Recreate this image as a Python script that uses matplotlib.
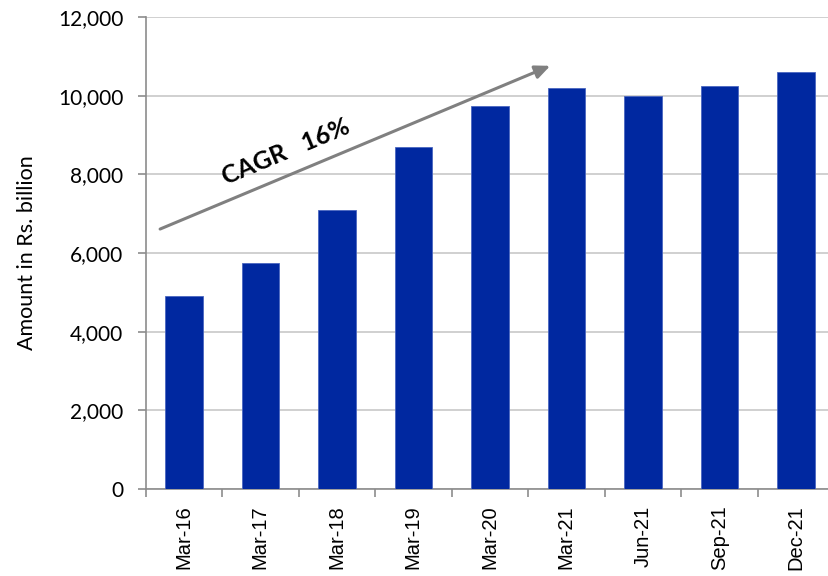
import matplotlib.pyplot as plt
import numpy as np

plt.rcParams['font.family'] = ['Lato', 'DejaVu Sans']

# Dane z grafu
periods = ['Mar-16', 'Mar-17', 'Mar-18', 'Mar-19', 'Mar-20', 'Mar-21', 'Jun-21', 'Sep-21', 'Dec-21']
amounts = [4910, 5745, 7090, 8705, 9737, 10187, 9999, 10246, 10610]
yTicks = [0, 2000, 4000, 6000, 8000, 10000, 12000]

barColor = '#0028A0'
axisColor = '#8C8C8C'

fig = plt.figure(figsize=(8.29, 5.76), dpi=100)
ax = fig.add_axes([0.1756, 0.151, 0.8305, 0.8194])

x = np.arange(len(periods))
ax.bar(x, amounts, width=0.49, color=barColor, edgecolor='#4A66C0', linewidth=0.6, zorder=3)

ax.set_xlim(-0.5, len(periods) - 0.5)
ax.set_ylim(0, 12000)
ax.set_yticks(yTicks)
ax.set_yticklabels([f'{v:,}' for v in yTicks], fontsize=15)
ax.yaxis.grid(True, color='#C4C4C4', linewidth=1.1, zorder=0)

ax.set_xticks(x)
ax.set_xticklabels(periods, rotation=90, fontsize=14.5, family=['Liberation Sans', 'DejaVu Sans'])
ax.set_xticks(np.arange(-0.5, len(periods)), minor=True)
ax.tick_params(axis='x', which='major', length=0, pad=12)
ax.tick_params(axis='x', which='minor', length=6, color=axisColor, width=1.2)
ax.tick_params(axis='y', length=6, color=axisColor, width=1.2, pad=10)

for side in ['top', 'right']:
    ax.spines[side].set_visible(False)
for side in ['left', 'bottom']:
    ax.spines[side].set_color(axisColor)
    ax.spines[side].set_linewidth(1.2)

ax.set_ylabel('Amount in Rs. billion', fontsize=15.5, labelpad=15)

# Šipka CAGR
ax.annotate('', xy=(4.79, 10760), xytext=(-0.31, 6610),
            arrowprops=dict(arrowstyle='-|>,head_length=0.9,head_width=0.4',
                            color='#808080', lw=2.2, shrinkA=0, shrinkB=0), zorder=5)
ax.text(1.33, 8580, 'CAGR   16%', fontsize=18, fontweight='bold', rotation=22.7,
        ha='center', va='center', rotation_mode='anchor', zorder=5)

fig.savefig('out.png', dpi=100)
